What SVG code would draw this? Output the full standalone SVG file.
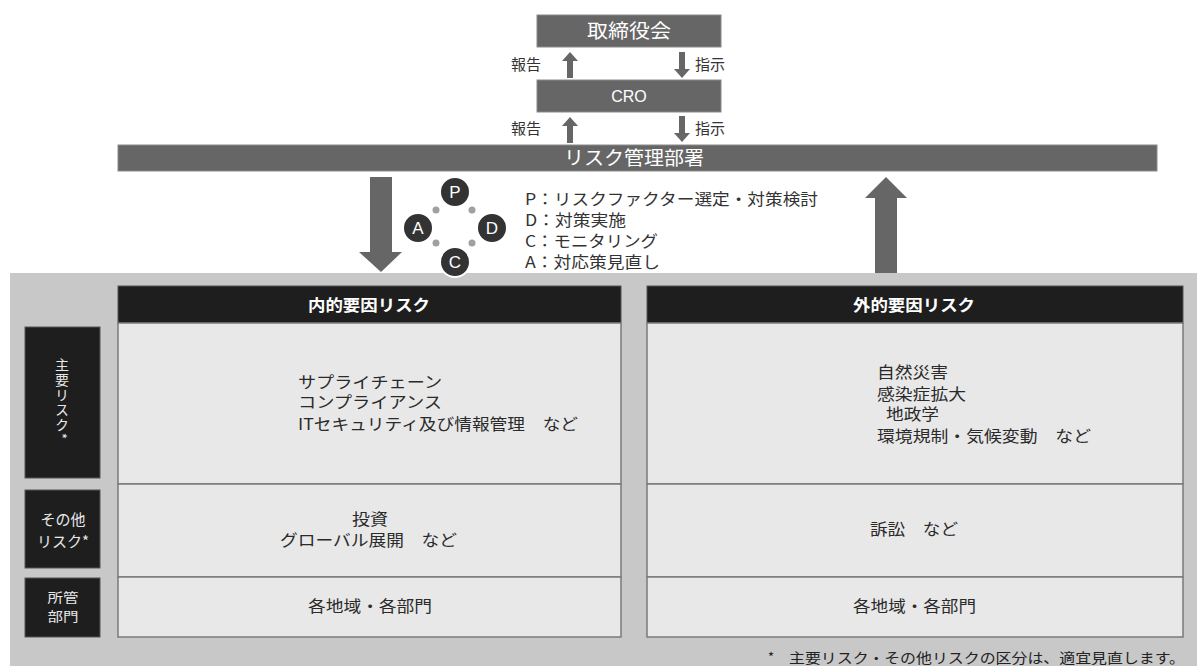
<svg xmlns="http://www.w3.org/2000/svg" width="1197" height="666" viewBox="0 0 1197 666">
<defs>
<style>
.jp{font-family:"Noto Sans CJK JP","Liberation Sans",sans-serif;}
.bar{fill:#666666;stroke:#8a8a8a;stroke-width:1;}
.bartxt{fill:#ffffff;font-size:19px;text-anchor:middle;}
.small{fill:#333333;font-size:15px;}
.leg{fill:#333333;font-size:16px;}
.hdr{fill:#1e1e1e;stroke:#555;stroke-width:1;}
.hdrtxt{fill:#ffffff;font-size:16px;font-weight:bold;text-anchor:middle;}
.cell{fill:#e8e8e8;stroke:#7a7a7a;stroke-width:1.5;}
.body{fill:#2a2a2a;font-size:16px;}
.lbl{fill:#1e1e1e;stroke:#555;stroke-width:1;}
.lbltxt{fill:#e8e8e8;font-size:15px;text-anchor:middle;}
.pd{fill:#333333;stroke:#ffffff;stroke-width:2;}
.pdtxt{fill:#ffffff;font-size:17px;text-anchor:middle;font-family:"Liberation Sans",sans-serif;}
.dot{fill:#a0a0a0;}
.arr{fill:#666666;}
</style>
</defs>
<rect width="1197" height="666" fill="#ffffff"/>

<g id="panel">
<rect x="10" y="273" width="1187" height="393" fill="#c8c8c8"/>
</g>

<g id="board">
<rect class="bar" x="537" y="15" width="184" height="32"/>
<text class="jp bartxt" x="629" y="38" textLength="84" lengthAdjust="spacingAndGlyphs">取締役会</text>
</g>
<g id="cro">
<rect class="bar" x="537" y="80" width="184" height="32"/>
<text class="bartxt" x="629" y="102" style="font-family:'Liberation Sans',sans-serif;font-size:16px">CRO</text>
</g>
<g id="riskdept">
<rect class="bar" x="118" y="145" width="1039" height="26"/>
<text class="jp bartxt" x="634" y="165" textLength="140" lengthAdjust="spacingAndGlyphs">リスク管理部署</text>
</g>

<g id="connectors">
<polygon class="arr" points="567,78 567,61 562,61 570,52 578,61 573,61 573,78"/>
<text class="jp small" x="511" y="70">報告</text>
<polygon class="arr" points="679,52 685,52 685,69 690,69 682,78 674,69 679,69"/>
<text class="jp small" x="695" y="70">指示</text>
<polygon class="arr" points="567,143 567,126 562,126 570,117 578,126 573,126 573,143"/>
<text class="jp small" x="511" y="134">報告</text>
<polygon class="arr" points="679,116 685,116 685,133 690,133 682,142 674,133 679,133"/>
<text class="jp small" x="695" y="134">指示</text>
<polygon class="arr" points="370,177 392,177 392,252 402,252 381,272 359,252 370,252"/>
<polygon class="arr" points="875,273 897,273 897,198 907,198 886,177 865,198 875,198"/>
</g>

<g id="pdca">
<circle class="dot" cx="436" cy="210" r="3.5"/>
<circle class="dot" cx="472" cy="210" r="3.5"/>
<circle class="dot" cx="436" cy="243" r="3.5"/>
<circle class="dot" cx="472" cy="243" r="3.5"/>
<circle class="pd" cx="455" cy="192" r="15"/>
<text class="pdtxt" x="455" y="198">P</text>
<circle class="pd" cx="492" cy="228" r="15"/>
<text class="pdtxt" x="492" y="234">D</text>
<circle class="pd" cx="455" cy="262" r="15"/>
<text class="pdtxt" x="455" y="268">C</text>
<circle class="pd" cx="418" cy="228" r="15"/>
<text class="pdtxt" x="418" y="234">A</text>
<g class="jp leg">
<text x="525" y="205" textLength="293" lengthAdjust="spacingAndGlyphs">P：リスクファクター選定・対策検討</text>
<text x="525" y="226" textLength="101" lengthAdjust="spacingAndGlyphs">D：対策実施</text>
<text x="525" y="247" textLength="133" lengthAdjust="spacingAndGlyphs">C：モニタリング</text>
<text x="525" y="268" textLength="135" lengthAdjust="spacingAndGlyphs">A：対応策見直し</text>
</g>
</g>

<g id="internal">
<rect class="hdr" x="118" y="286" width="503" height="37"/>
<text class="jp hdrtxt" x="369" y="311" textLength="122" lengthAdjust="spacingAndGlyphs">内的要因リスク</text>
<rect class="cell" x="118" y="323" width="503" height="161"/>
<g class="jp body">
<text x="298" y="388" textLength="144" lengthAdjust="spacingAndGlyphs">サプライチェーン</text>
<text x="298" y="408" textLength="144" lengthAdjust="spacingAndGlyphs">コンプライアンス</text>
<text x="298" y="430" textLength="280" lengthAdjust="spacingAndGlyphs">ITセキュリティ及び情報管理　など</text>
</g>
<rect class="cell" x="118" y="484" width="503" height="93"/>
<text class="jp body" x="352" y="525" textLength="36" lengthAdjust="spacingAndGlyphs">投資</text>
<text class="jp body" x="280" y="546" textLength="177" lengthAdjust="spacingAndGlyphs">グローバル展開　など</text>
<rect class="cell" x="118" y="577" width="503" height="60"/>
<text class="jp body" x="308" y="612" textLength="124" lengthAdjust="spacingAndGlyphs">各地域・各部門</text>
</g>

<g id="external">
<rect class="hdr" x="647" y="286" width="536" height="37"/>
<text class="jp hdrtxt" x="914" y="311" textLength="122" lengthAdjust="spacingAndGlyphs">外的要因リスク</text>
<rect class="cell" x="647" y="323" width="536" height="161"/>
<g class="jp body">
<text x="877" y="378" textLength="71" lengthAdjust="spacingAndGlyphs">自然災害</text>
<text x="877" y="400" textLength="89" lengthAdjust="spacingAndGlyphs">感染症拡大</text>
<text x="886" y="420" textLength="53" lengthAdjust="spacingAndGlyphs">地政学</text>
<text x="877" y="442" textLength="214" lengthAdjust="spacingAndGlyphs">環境規制・気候変動　など</text>
</g>
<rect class="cell" x="647" y="484" width="536" height="93"/>
<text class="jp body" x="870" y="535" textLength="88" lengthAdjust="spacingAndGlyphs">訴訟　など</text>
<rect class="cell" x="647" y="577" width="536" height="60"/>
<text class="jp body" x="853" y="612" textLength="123" lengthAdjust="spacingAndGlyphs">各地域・各部門</text>
</g>

<g id="label-main">
<rect class="lbl" x="25" y="327" width="75" height="151"/>
<text class="jp" x="62" y="399" fill="#e8e8e8" font-size="14" text-anchor="middle" letter-spacing="1" style="writing-mode:vertical-rl">主要リスク*</text>
</g>
<g id="label-other">
<rect class="lbl" x="25" y="490" width="75" height="78"/>
<text class="jp lbltxt" x="63" y="525">その他</text>
<text class="jp lbltxt" x="63" y="547">リスク*</text>
</g>
<g id="label-dept">
<rect class="lbl" x="25" y="578" width="75" height="59"/>
<text class="jp lbltxt" x="63" y="602" style="font-size:13px" textLength="31" lengthAdjust="spacingAndGlyphs">所管</text>
<text class="jp lbltxt" x="63" y="621" style="font-size:13px" textLength="31" lengthAdjust="spacingAndGlyphs">部門</text>
</g>

<g id="footnote" class="jp" fill="#222">
<text x="768" y="662" font-size="13">*</text>
<text x="789" y="663" font-size="14" textLength="396" lengthAdjust="spacingAndGlyphs">主要リスク・その他リスクの区分は、適宜見直します。</text>
</g>
</svg>
